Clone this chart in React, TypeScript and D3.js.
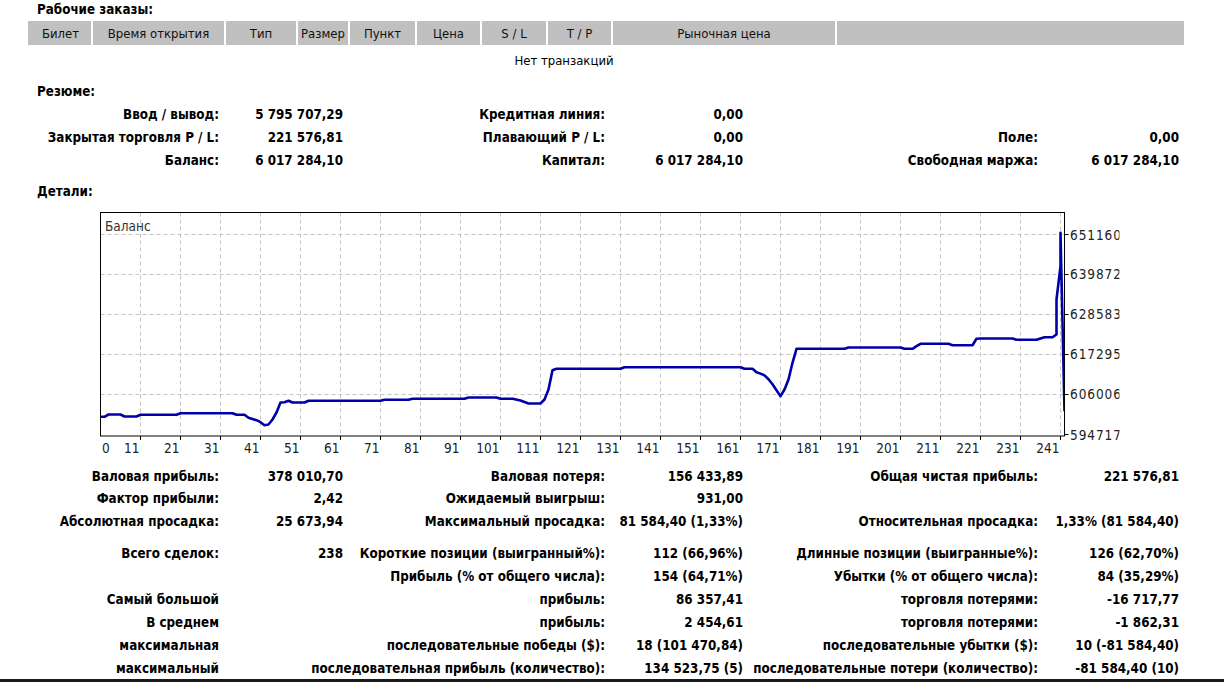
import React, { useEffect, useRef } from 'react';
import * as d3 from 'd3';

const orderColumns = ['Билет', 'Время открытия', 'Тип', 'Размер', 'Пункт', 'Цена', 'S / L', 'T / P', 'Рыночная цена', ''];

const summaryRows = [
  ['Ввод / вывод:', '5 795 707,29', 'Кредитная линия:', '0,00', '', ''],
  ['Закрытая торговля P / L:', '221 576,81', 'Плавающий P / L:', '0,00', 'Поле:', '0,00'],
  ['Баланс:', '6 017 284,10', 'Капитал:', '6 017 284,10', 'Свободная маржа:', '6 017 284,10'],
];

const statsRows = [
  ['Валовая прибыль:', '378 010,70', 'Валовая потеря:', '156 433,89', 'Общая чистая прибыль:', '221 576,81'],
  ['Фактор прибыли:', '2,42', 'Ожидаемый выигрыш:', '931,00', '', ''],
  ['Абсолютная просадка:', '25 673,94', 'Максимальный просадка:', '81 584,40 (1,33%)', 'Относительная просадка:', '1,33% (81 584,40)'],
  ['Всего сделок:', '238', 'Короткие позиции (выигранный%):', '112 (66,96%)', 'Длинные позиции (выигранные%):', '126 (62,70%)'],
  ['', '', 'Прибыль (% от общего числа):', '154 (64,71%)', 'Убытки (% от общего числа):', '84 (35,29%)'],
  ['Самый большой', '', 'прибыль:', '86 357,41', 'торговля потерями:', '-16 717,77'],
  ['В среднем', '', 'прибыль:', '2 454,61', 'торговля потерями:', '-1 862,31'],
  ['максимальная', '', 'последовательные победы ($):', '18 (101 470,84)', 'последовательные убытки ($):', '10 (-81 584,40)'],
  ['максимальный', '', 'последовательная прибыль (количество):', '134 523,75 (5)', 'последовательные потери (количество):', '-81 584,40 (10)'],
];

// balance curve: trade number -> balance (axis units)
const tradeNo = [
  1, 2, 3, 6, 7, 10, 11, 20, 21, 34, 35, 37, 38, 39, 40, 41, 42, 43, 44, 45, 46, 47, 48, 49, 52, 53,
  71, 72, 78, 79, 92, 93, 100, 101, 104, 106, 108, 111, 112, 113, 114, 115, 131, 132, 161, 162, 164,
  165, 166, 167, 168, 169, 170, 171, 172, 173, 174, 175, 187, 188, 201, 202, 204, 205, 206, 213, 214,
  219, 220, 221, 229, 230, 235, 236, 237, 239, 240, 240, 241, 241, 242,
];
const balance = [
  599712, 599712, 600361, 600361, 599797, 599797, 600276, 600276, 600728, 600728, 600276, 600276,
  599430, 599100, 598752, 598188, 597341, 597539, 598950, 600925, 603747, 603832, 604227, 603747,
  603747, 604227, 604227, 604509, 604509, 604792, 604792, 605158, 605158, 604792, 604792, 604312,
  603465, 603465, 604594, 607400, 612862, 613258, 613258, 613709, 613709, 613258, 613258, 612298,
  611900, 611400, 610300, 608900, 607200, 605525, 607416, 610238, 614951, 618902, 618902, 619268,
  619268, 618902, 618902, 619635, 620313, 620313, 619917, 619917, 621724, 621808, 621808, 621441,
  621441, 621808, 622175, 622175, 622937, 632814, 642211, 651636, 601292,
];

const xTicks = [11, 21, 31, 41, 51, 61, 71, 81, 91, 101, 111, 121, 131, 141, 151, 161, 171, 181, 191, 201, 211, 221, 231, 241];
const yTicks = [594717, 606006, 617295, 628583, 639872, 651160];

const App: React.FC = () => {
  const svgRef = useRef<SVGSVGElement>(null);

  useEffect(() => {
    if (!svgRef.current) return;
    const W = 1224;
    const H = 682;
    const fs = 13.3;
    const svg = d3.select(svgRef.current);
    svg.selectAll('*').remove();
    svg
      .attr('width', W)
      .attr('height', H)
      .style('font-family', "'DejaVu Sans Condensed', 'DejaVu Sans', sans-serif")
      .style('font-stretch', 'condensed');

    svg.append('rect').attr('width', W).attr('height', H).attr('fill', '#fff');

    const heading = (txt: string, y: number) =>
      svg.append('text').attr('x', 37).attr('y', y).attr('font-size', fs).attr('font-weight', 'bold').attr('fill', '#000').text(txt);

    // open orders header
    heading('Рабочие заказы:', 14);
    const edges = [28, 91, 224, 296, 348, 415, 480, 546, 611, 835, 1184];
    svg.append('rect').attr('x', 28).attr('y', 21).attr('width', 1156).attr('height', 24).attr('fill', '#c0c0c0');
    edges.slice(1, -1).forEach((x) => {
      svg.append('rect').attr('x', x).attr('y', 21).attr('width', 2).attr('height', 24).attr('fill', '#fff');
    });
    orderColumns.forEach((c, i) => {
      svg.append('text')
        .attr('x', (edges[i] + edges[i + 1]) / 2 + 1)
        .attr('y', 38)
        .attr('text-anchor', 'middle')
        .attr('font-size', 13)
        .attr('fill', '#111')
        .text(c);
    });
    svg.append('text').attr('x', 564).attr('y', 64.5).attr('text-anchor', 'middle').attr('font-size', 13).attr('fill', '#000').text('Нет транзакций');

    // summary + stats tables, right-aligned cells
    const colRight = [219, 343, 605, 743, 1038, 1179];
    const drawRows = (rows: string[][], ys: number[]) => {
      rows.forEach((row, r) => {
        row.forEach((cell, c) => {
          if (!cell) return;
          svg.append('text')
            .attr('x', colRight[c])
            .attr('y', ys[r])
            .attr('text-anchor', 'end')
            .attr('font-size', fs)
            .attr('font-weight', 'bold')
            .attr('fill', '#000')
            .text(cell);
        });
      });
    };

    heading('Резюме:', 96);
    drawRows(summaryRows, [119, 142, 165]);
    heading('Детали:', 196);
    drawRows(statsRows, [481, 503, 526, 558, 581, 604, 627, 650, 673]);

    // balance chart
    const left = 100.5;
    const right = 1064.5;
    const top = 212.5;
    const bottom = 436;
    const x = d3.scaleLinear().domain([1, 241]).range([100.5, 1060.5]);
    const y = d3.scaleLinear().domain([yTicks[0], yTicks[yTicks.length - 1]]).range([434.5, 234.5]);

    const chart = svg.append('g').attr('font-size', 13.5).attr('fill', '#222');

    const defs = svg.append('defs');
    defs.append('clipPath').attr('id', 'plot-clip')
      .append('rect').attr('x', left).attr('y', top).attr('width', right - left).attr('height', bottom - top);
    defs.append('clipPath').attr('id', 'label-clip')
      .append('rect').attr('x', right).attr('y', top).attr('width', 1119.5 - right).attr('height', 240);

    // grid
    xTicks.forEach((t) => {
      chart.append('line')
        .attr('x1', x(t)).attr('x2', x(t)).attr('y1', top).attr('y2', bottom)
        .attr('stroke', '#c4c4c4').attr('stroke-dasharray', '4,3');
      chart.append('line')
        .attr('x1', x(t)).attr('x2', x(t)).attr('y1', bottom).attr('y2', bottom + 4)
        .attr('stroke', '#000');
      chart.append('text')
        .attr('x', x(t) - 1).attr('y', 452.5)
        .attr('text-anchor', 'end')
        .text(String(t));
    });
    chart.append('text').attr('x', 102).attr('y', 452.5).text('0');

    yTicks.forEach((t, i) => {
      if (i > 0) {
        chart.append('line')
          .attr('x1', left).attr('x2', right).attr('y1', y(t)).attr('y2', y(t))
          .attr('stroke', '#c4c4c4').attr('stroke-dasharray', '4,3');
      }
      chart.append('line')
        .attr('x1', right).attr('x2', right + 4).attr('y1', y(t)).attr('y2', y(t))
        .attr('stroke', '#000');
      chart.append('text')
        .attr('clip-path', 'url(#label-clip)')
        .attr('x', 1070).attr('y', y(t) + 5)
        .attr('letter-spacing', 0.9)
        .text(String(t));
    });

    const line = d3.line<number>()
      .x((d) => x(d))
      .y((_, i) => y(balance[i]));

    chart.append('path')
      .datum(tradeNo)
      .attr('clip-path', 'url(#plot-clip)')
      .attr('d', line)
      .attr('fill', 'none')
      .attr('stroke', '#0000a8')
      .attr('stroke-width', 2.6)
      .attr('stroke-linejoin', 'round');

    chart.append('rect')
      .attr('x', left).attr('y', top).attr('width', right - left).attr('height', bottom - top)
      .attr('fill', 'none').attr('stroke', '#000');

    chart.append('text').attr('x', 105).attr('y', 231).attr('fill', '#333').text('Баланс');

    // bottom rule
    svg.append('rect').attr('x', 0).attr('y', 679).attr('width', W).attr('height', 3).attr('fill', '#1a1a1a');
  }, []);

  return (
    <div style={{ position: 'absolute', left: 0, top: 0 }}>
      <svg ref={svgRef} style={{ display: 'block' }}></svg>
    </div>
  );
};

export default App;
